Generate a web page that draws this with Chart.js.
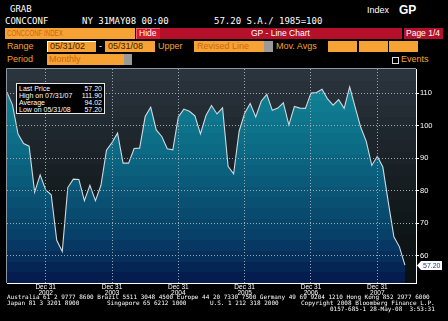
<!DOCTYPE html>
<html>
<head>
<meta charset="utf-8">
<script src="https://cdn.jsdelivr.net/npm/chart.js@4/dist/chart.umd.min.js"></script>
<style>
  body { margin: 0; background: #000; width: 448px; height: 321px; overflow: hidden; position: relative;
         font-family: "Liberation Sans", Arial, sans-serif; }
  .t { position: absolute; white-space: pre; line-height: 1; }
  .mono { font-family: "DejaVu Sans Mono", monospace; color: #fff; font-size: 9px; }
  .box { position: absolute; height: 11px; box-sizing: border-box; }
  .org { background: #f7a234; }
  .lbl { color: #f5a030; font-size: 9px; }
  .dim { color: #c9690f; font-size: 9px; }
  .foot { font-family: "DejaVu Sans Mono", monospace; font-size: 6px; color: #fff; }
  #legend { position: absolute; left: 16px; top: 83px; width: 89px; height: 31px; box-sizing: border-box;
            background: #000; border: 1px solid #e8e8e8; padding: 1px 2px; color: #fff; font-size: 7px; }
  #legend div { display: flex; justify-content: space-between; height: 7px; line-height: 7px; }
  #wrap { position: absolute; left: 0; top: 60px; width: 448px; height: 245px; }
</style>
</head>
<body>
<div class="t mono" style="left:10px;top:5px">GRAB</div>
<div class="t mono" style="left:5px;top:17px">CONCCONF</div>
<div class="t mono" style="left:82px;top:17px">NY 31MAY08 00:00</div>
<div class="t mono" style="left:214px;top:17px">57.20 S.A./ 1985=100</div>
<div class="t" style="left:367px;top:6px;color:#fff;font-size:9px">Index</div>
<div class="t" style="left:399px;top:4px;color:#fff;font-size:12px;font-weight:bold">GP</div>

<div class="box org" style="left:5px;top:28px;width:130px"></div>
<div class="t dim" style="left:7px;top:29px;font-size:9px;transform:scaleX(0.68);transform-origin:left">CONCCONF INDEX</div>
<div class="box" style="left:136px;top:28px;width:24px;background:#d3192f;border-top:1px solid #f06070;border-left:1px solid #f06070"></div>
<div class="t" style="left:139px;top:29px;color:#fff;font-size:8.5px">Hide</div>
<div class="box" style="left:160px;top:28px;width:242px;background:#b5102a"></div>
<div class="t" style="left:251px;top:29px;color:#fff;font-size:8.5px">GP - Line Chart</div>
<div class="box" style="left:404px;top:28px;width:39px;background:#b5102a"></div>
<div class="t" style="left:406px;top:29px;color:#fff;font-size:8.5px">Page 1/4</div>

<div class="t lbl" style="left:7px;top:42px">Range</div>
<div class="box org" style="left:47px;top:41px;width:49px;border-top:1px solid #fff;border-left:1px solid #fff"></div>
<div class="t" style="left:50px;top:42px;color:#3a1c00;font-size:9px">05/31/02</div>
<div class="t" style="left:99px;top:42px;color:#fff;font-size:9px">-</div>
<div class="box org" style="left:105px;top:41px;width:50px"></div>
<div class="t" style="left:108px;top:42px;color:#3a1c00;font-size:9px">05/31/08</div>
<div class="t lbl" style="left:158px;top:42px">Upper</div>
<div class="box org" style="left:194px;top:41px;width:70px"></div>
<div class="t dim" style="left:197px;top:42px">Revised Line</div>
<div class="box" style="left:264px;top:41px;width:9px;background:#9a9a9a"></div>
<div class="t lbl" style="left:276px;top:42px">Mov. Avgs</div>
<div class="box org" style="left:328px;top:41px;width:29px"></div>
<div class="box org" style="left:359px;top:41px;width:29px"></div>
<div class="box org" style="left:389px;top:41px;width:29px"></div>

<div class="t lbl" style="left:7px;top:55px">Period</div>
<div class="box org" style="left:47px;top:54px;width:77px"></div>
<div class="t dim" style="left:49px;top:55px">Monthly</div>
<div class="box" style="left:124px;top:54px;width:8px;background:#9a9a9a"></div>
<div class="box" style="left:392px;top:57px;width:7px;height:7px;border:1px solid #ddd"></div>
<div class="t lbl" style="left:401px;top:55px">Events</div>

<div id="wrap"><canvas id="chart"></canvas></div>

<div id="legend">
  <div><span>Last Price</span><span>57.20</span></div>
  <div><span>High on 07/31/07</span><span>111.90</span></div>
  <div><span>Average</span><span>94.02</span></div>
  <div><span>Low on 05/31/08</span><span>57.20</span></div>
</div>

<div class="t foot" style="left:7px;top:294px">Australia 61 2 9777 8600 Brazil 5511 3048 4500 Europe 44 20 7330 7500 Germany 49 69 9204 1210 Hong Kong 852 2977 6000</div>
<div class="t foot" style="left:7px;top:300px">Japan 81 3 3201 8900</div>
<div class="t foot" style="left:107px;top:300px">Singapore 65 6212 1000</div>
<div class="t foot" style="left:210px;top:300px">U.S. 1 212 318 2000</div>
<div class="t foot" style="left:301px;top:300px">Copyright 2008 Bloomberg Finance L.P.</div>
<div class="t foot" style="left:330px;top:306px">0157-685-1 28-May-08  3:53:31</div>

<script>
// monthly points, May 2002 .. May 2008 (plus two empty months the axis runs on to)
const months = [
  'May 02', 'Jun 02', 'Jul 02', 'Aug 02', 'Sep 02', 'Oct 02', 'Nov 02', 'Dec 02',
  'Jan 03', 'Feb 03', 'Mar 03', 'Apr 03', 'May 03', 'Jun 03', 'Jul 03', 'Aug 03', 'Sep 03', 'Oct 03', 'Nov 03', 'Dec 03',
  'Jan 04', 'Feb 04', 'Mar 04', 'Apr 04', 'May 04', 'Jun 04', 'Jul 04', 'Aug 04', 'Sep 04', 'Oct 04', 'Nov 04', 'Dec 04',
  'Jan 05', 'Feb 05', 'Mar 05', 'Apr 05', 'May 05', 'Jun 05', 'Jul 05', 'Aug 05', 'Sep 05', 'Oct 05', 'Nov 05', 'Dec 05',
  'Jan 06', 'Feb 06', 'Mar 06', 'Apr 06', 'May 06', 'Jun 06', 'Jul 06', 'Aug 06', 'Sep 06', 'Oct 06', 'Nov 06', 'Dec 06',
  'Jan 07', 'Feb 07', 'Mar 07', 'Apr 07', 'May 07', 'Jun 07', 'Jul 07', 'Aug 07', 'Sep 07', 'Oct 07', 'Nov 07', 'Dec 07',
  'Jan 08', 'Feb 08', 'Mar 08', 'Apr 08', 'May 08', 'Jun 08', 'Jul 08'
];

const confidence = [
  110.3, 106.3, 97.4, 94.5, 93.7, 79.6, 84.9, 80.3,
  78.8, 64.8, 61.4, 81.0, 83.6, 83.5, 77.0, 81.7, 77.0, 81.7, 92.5, 94.8,
  97.7, 88.5, 88.5, 93.0, 93.1, 102.8, 105.7, 98.7, 96.7, 92.9, 92.6, 102.7,
  105.1, 104.4, 103.0, 97.5, 103.1, 106.2, 103.6, 105.5, 87.5, 85.2, 98.3, 103.8,
  106.8, 102.7, 107.5, 109.6, 104.7, 105.4, 107.0, 100.2, 105.9, 105.4, 105.3, 110.0,
  110.2, 111.2, 108.2, 106.3, 108.0, 105.3, 111.9, 105.6, 99.5, 95.2, 87.8, 90.6,
  87.3, 76.4, 65.9, 62.8, 57.2
];

const yTicks = [60, 70, 80, 90, 100, 110];
const tickDay = 'Dec 31';

// colour keys top -> bottom, turned into flat horizontal bands
const fillKeys = [[0, '#128a9b'], [0.3, '#0c7189'], [0.55, '#0a5878'], [0.8, '#073d66'], [1, '#04184a']];
const bgKeys = [[0, '#2b353e'], [0.45, '#1a2126'], [0.75, '#0f1617'], [1, '#0a0e10']];

function hex(c) { return [1, 3, 5].map(i => parseInt(c.substr(i, 2), 16)); }
function colorAt(keys, t) {
  for (let i = 1; i < keys.length; i++) {
    if (t <= keys[i][0]) {
      const [t0, c0] = keys[i - 1], [t1, c1] = keys[i];
      const f = (t - t0) / (t1 - t0), a = hex(c0), b = hex(c1);
      return 'rgb(' + a.map((v, k) => Math.round(v + (b[k] - v) * f)).join(',') + ')';
    }
  }
  return keys[keys.length - 1][1];
}
function bands(ctx, area, keys, n) {
  const g = ctx.createLinearGradient(0, area.top, 0, area.bottom);
  for (let i = 0; i < n; i++) {
    const col = colorAt(keys, (i + 0.5) / n);
    g.addColorStop(i / n, col);
    g.addColorStop(Math.min(1, (i + 1) / n - 0.0001), col);
  }
  return g;
}

const backdrop = {
  id: 'backdrop',
  beforeDraw(chart) {
    const { ctx, chartArea: a } = chart;
    ctx.save();
    ctx.fillStyle = bands(ctx, a, bgKeys, 18);
    ctx.fillRect(a.left, a.top, a.right - a.left, a.bottom - a.top);
    ctx.restore();
  },
  afterDraw(chart) {
    const { ctx, chartArea: a } = chart;
    ctx.save();
    ctx.strokeStyle = '#8a96a0';
    ctx.lineWidth = 1;
    ctx.beginPath();
    ctx.moveTo(a.left - 0.5, a.bottom);
    ctx.lineTo(a.left - 0.5, a.top - 0.5);
    ctx.lineTo(a.right, a.top - 0.5);
    ctx.stroke();

    // last price tag on the right axis
    const last = confidence[confidence.length - 1];
    const y = Math.round(chart.scales.y.getPixelForValue(last)) + 0.5;
    const x = a.right + 1;
    ctx.fillStyle = '#fff';
    ctx.beginPath();
    ctx.moveTo(x, y);
    ctx.lineTo(x + 4, y - 4.5);
    ctx.lineTo(x + 25, y - 4.5);
    ctx.lineTo(x + 25, y + 4.5);
    ctx.lineTo(x + 4, y + 4.5);
    ctx.closePath();
    ctx.fill();
    ctx.fillStyle = '#1d3c8c';
    ctx.font = '7px "Liberation Sans"';
    ctx.textBaseline = 'middle';
    ctx.fillText(last.toFixed(2), x + 6, y + 0.5);
    ctx.restore();
  }
};

const isTick = i => months[i] && months[i].startsWith('Dec');

new Chart(document.getElementById('chart'), {
  type: 'line',
  data: {
    labels: months,
    datasets: [{
      data: confidence,
      borderColor: '#cfd9e0',
      borderWidth: 1.1,
      pointRadius: 0,
      tension: 0,
      fill: 'start',
      backgroundColor: c => {
        const a = c.chart.chartArea;
        if (!a) return '#0a5878';
        return bands(c.chart.ctx, a, fillKeys, 20);
      }
    }]
  },
  options: {
    responsive: true,
    maintainAspectRatio: false,
    animation: false,
    layout: { padding: { left: 7, top: 9, right: 0, bottom: 0 } },
    plugins: { legend: { display: false }, tooltip: { enabled: false } },
    scales: {
      x: {
        offset: false,
        afterFit: s => { s.height = 22; },
        // in v4 border.dash styles the grid lines, the axis line stays solid
        border: { display: true, color: '#ffffff', width: 1, dash: [1, 2], z: 2 },
        grid: {
          z: 1,
          drawTicks: false,
          color: c => isTick(c.index) ? '#9aa8b2' : 'rgba(0,0,0,0)',
          lineWidth: 1
        },
        ticks: {
          autoSkip: false,
          maxRotation: 0,
          padding: 1,
          color: '#ffffff',
          font: { family: 'Liberation Sans', size: 6.5, lineHeight: 0.95 },
          callback: (v, i) => isTick(i) ? [tickDay, '20' + months[i].slice(4)] : ''
        }
      },
      y: {
        position: 'right',
        min: 51.7,
        max: 117.4,
        afterFit: s => { s.width = 32; },
        afterBuildTicks: s => { s.ticks = yTicks.map(v => ({ value: v })); },
        border: { display: true, color: '#ffffff', width: 1, dash: [1, 2], z: 2 },
        grid: {
          z: 1,
          color: '#9aa8b2',
          tickColor: '#ffffff',
          tickLength: 3,
          tickBorderDash: [],
          lineWidth: 1
        },
        ticks: {
          padding: 1,
          color: '#ffffff',
          font: { family: 'Liberation Sans', size: 7.5 }
        }
      }
    }
  },
  plugins: [backdrop]
});
</script>
</body>
</html>
